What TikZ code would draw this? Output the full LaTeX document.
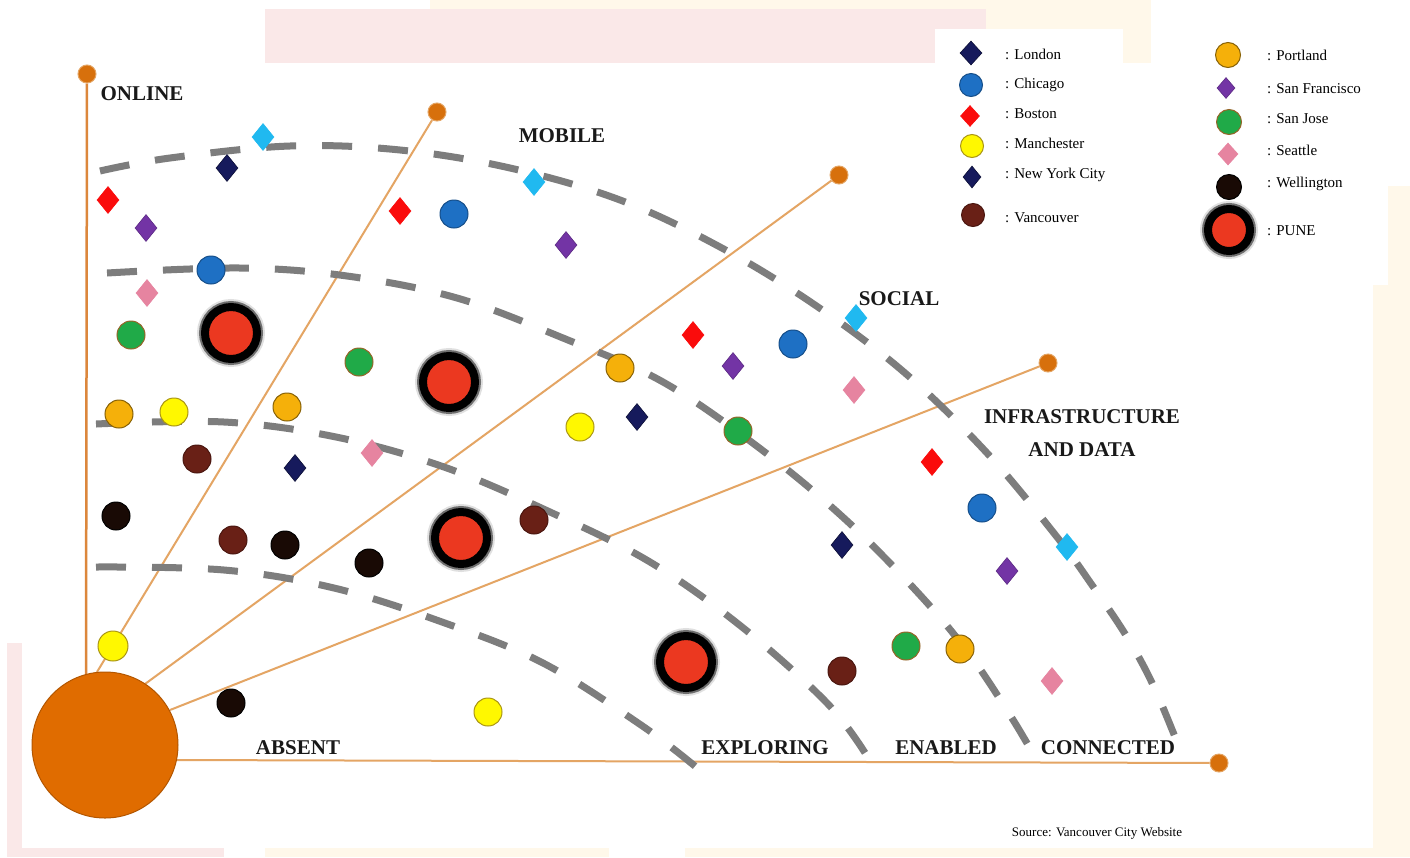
\documentclass[tikz,border=0pt]{standalone}
\usepackage{fontspec}
\setmainfont{Liberation Serif}
\usetikzlibrary{shapes.geometric}
\definecolor{navyc}{RGB}{22,26,92}
\definecolor{cyanc}{RGB}{32,185,240}
\definecolor{bostonc}{RGB}{250,12,12}
\definecolor{purplec}{RGB}{115,52,165}
\definecolor{pinkc}{RGB}{230,132,160}
\definecolor{chicagoc}{RGB}{30,112,196}
\definecolor{yellowc}{RGB}{255,248,0}
\definecolor{vancc}{RGB}{105,32,22}
\definecolor{portc}{RGB}{245,176,10}
\definecolor{greenc}{RGB}{32,170,72}
\definecolor{wellc}{RGB}{25,10,5}
\definecolor{punec}{RGB}{235,56,32}
\definecolor{hubc}{RGB}{224,108,0}
\definecolor{dotc}{RGB}{215,112,12}
\definecolor{rayc}{RGB}{228,165,100}
\definecolor{rayvc}{RGB}{220,135,60}
\definecolor{arcc}{RGB}{125,125,125}
\definecolor{pinkbg}{RGB}{250,232,232}
\definecolor{creambg}{RGB}{255,248,234}
\definecolor{olivec}{RGB}{170,150,20}
\definecolor{brownc}{RGB}{150,100,40}
\tikzset{
  dia/.style={diamond, inner sep=0pt, minimum width=22pt, minimum height=27pt, line width=0.6pt},
  cir/.style={circle, inner sep=0pt, minimum size=28pt, line width=1pt},
  london/.style={dia, fill=navyc, draw=navyc!60!black},
  cyanm/.style={dia, fill=cyanc, draw=cyanc},
  boston/.style={dia, fill=bostonc, draw=bostonc},
  sfm/.style={dia, fill=purplec, draw=purplec!80!black},
  seattle/.style={dia, fill=pinkc, draw=pinkc},
  chicago/.style={cir, fill=chicagoc, draw=chicagoc!70!black},
  manch/.style={cir, fill=yellowc, draw=olivec},
  vanc/.style={cir, fill=vancc, draw=vancc!70!black},
  portl/.style={cir, fill=portc, draw=portc!55!black},
  sjose/.style={cir, fill=greenc, draw=brownc},
  welly/.style={cir, fill=wellc, draw=black},
  pune/.style={circle, inner sep=0pt, minimum size=52pt, fill=punec, draw=black, line width=8pt,
    preaction={draw=black, line width=16pt, draw opacity=0.12},
    preaction={draw=black, line width=12pt, draw opacity=0.5}},
  punelg/.style={pune, minimum size=42pt, line width=8pt},
  hubst/.style={circle, inner sep=0pt, minimum size=146pt, fill=hubc, draw=hubc!80!black, line width=1pt},
  enddot/.style={circle, inner sep=0pt, minimum size=18pt, fill=dotc, draw=rayc, line width=1pt},
  ray/.style={draw=rayc, line width=2pt},
  arcline/.style={draw=arcc, line width=7pt, dash pattern=on 30pt off 26pt},
  lab/.style={font=\fontsize{21}{24}\selectfont\bfseries, text=black!90, inner sep=0pt},
  lgtext/.style={font=\fontsize{15}{18}\selectfont, text=black, anchor=base west, inner sep=0pt},
}
\begin{document}
\begin{tikzpicture}[x=1pt,y=-1pt]
\useasboundingbox (0,0) rectangle (1410,857);
% background
\fill[white] (0,0) rectangle (1410,857);
\fill[creambg] (430,0) rectangle (1151,63);
\fill[pinkbg] (265,9) rectangle (986,63);
\fill[white] (935,29) rectangle (1123,63);
\fill[pinkbg] (7,643) rectangle (22,857);
\fill[pinkbg] (7,848) rectangle (224,857);
\fill[creambg] (265,848) rectangle (609,857);
\fill[creambg] (685,848) rectangle (1410,857);
\fill[creambg] (1388,186) rectangle (1410,857);
\fill[creambg] (1373,285) rectangle (1410,857);

% rays
\node[enddot] (dOnline) at (87,74) {};
\node[enddot] (dMobile) at (437,112) {};
\node[enddot] (dSocial) at (839,175) {};
\node[enddot] (dInfra) at (1048,363) {};
\node[enddot] (dConn) at (1219,763) {};
\coordinate (hOnline) at (86,680);
\coordinate (hMobile) at (97,672);
\coordinate (hSocial) at (145,684);
\coordinate (hInfra) at (170,710);
\coordinate (hConn) at (175,760);
\draw[draw=rayvc, line width=2.5pt] (hOnline) -- (dOnline);
\draw[ray] (hMobile) -- (dMobile);
\draw[ray] (hSocial) -- (dSocial);
\draw[ray] (hInfra) -- (dInfra);
\draw[ray] (hConn) -- (dConn);

% dashed arcs
\draw[arcline] plot[smooth, tension=0.6] coordinates {(100,171) (170,158) (290,146) (400,150) (510,168) (620,200) (720,247) (815,305) (905,373) (987,453) (1057,537) (1092,585) (1127,637) (1154,687) (1181,752)};
\draw[arcline] plot[smooth, tension=0.6] coordinates {(107,273) (240,268) (347,276) (457,298) (563,338) (663,382) (762,450) (846,520) (920,595) (970,655) (1010,715) (1035,757)};
\draw[arcline] plot[smooth, tension=0.6] coordinates {(96,424) (224,422) (336,437) (444,467) (550,512) (650,562) (742,627) (827,703) (867,756)};
\draw[arcline] plot[smooth, tension=0.6] coordinates {(96,567) (224,570) (334,588) (442,622) (543,663) (641,725) (696,767)};

% hub
\node[hubst] (hub) at (105,745) {};

% markers
\node[cyanm] (c1) at (263,137) {};
\node[cyanm] (c2) at (534,182) {};
\node[cyanm] (c3) at (856,318) {};
\node[cyanm] (c4) at (1067,547) {};
\node[london] (l1) at (227,168) {};
\node[london] (l2) at (295,468) {};
\node[london] (l3) at (637,417) {};
\node[london] (l4) at (842,545) {};
\node[boston] (b1) at (108,200) {};
\node[boston] (b2) at (400,211) {};
\node[boston] (b3) at (693,335) {};
\node[boston] (b4) at (932,462) {};
\node[sfm] (s1) at (146,228) {};
\node[sfm] (s2) at (566,245) {};
\node[sfm] (s3) at (733,366) {};
\node[sfm] (s4) at (1007,571) {};
\node[seattle] (e1) at (147,293) {};
\node[seattle] (e2) at (372,453) {};
\node[seattle] (e3) at (854,390) {};
\node[seattle] (e4) at (1052,681) {};
\node[chicago] (h1) at (454,214) {};
\node[chicago] (h2) at (211,270) {};
\node[chicago] (h3) at (793,344) {};
\node[chicago] (h4) at (982,508) {};
\node[sjose] (g1) at (131,335) {};
\node[sjose] (g2) at (359,362) {};
\node[sjose] (g3) at (738,431) {};
\node[sjose] (g4) at (906,646) {};
\node[portl] (o1) at (119,414) {};
\node[portl] (o2) at (287,407) {};
\node[portl] (o3) at (620,368) {};
\node[portl] (o4) at (960,649) {};
\node[manch] (y1) at (174,412) {};
\node[manch] (y2) at (580,427) {};
\node[manch, minimum size=30pt] (y3) at (113,646) {};
\node[manch] (y4) at (488,712) {};
\node[vanc] (v1) at (197,459) {};
\node[vanc] (v2) at (233,540) {};
\node[vanc] (v3) at (534,520) {};
\node[vanc] (v4) at (842,671) {};
\node[welly] (w1) at (116,516) {};
\node[welly] (w2) at (285,545) {};
\node[welly] (w3) at (369,563) {};
\node[welly] (w4) at (231,703) {};
\node[pune] (p1) at (231,333) {};
\node[pune] (p2) at (449,382) {};
\node[pune] (p3) at (461,538) {};
\node[pune] (p4) at (686,662) {};

% labels
\node[lab] (tOnline) at (142,94) {ONLINE};
\node[lab] (tMobile) at (562,136) {MOBILE};
\node[lab] (tSocial) at (899,299) {SOCIAL};
\node[lab] (tInfra1) at (1082,417) {INFRASTRUCTURE};
\node[lab] (tInfra2) at (1082,450) {AND DATA};
\node[lab] (tAbsent) at (298,748) {ABSENT};
\node[lab] (tExpl) at (765,748) {EXPLORING};
\node[lab] (tEnab) at (946,748) {ENABLED};
\node[lab] (tConn) at (1108,748) {CONNECTED};
\node[font=\fontsize{13}{15}\selectfont, text=black, inner sep=0pt] (tSrc) at (1097,833) {Source: Vancouver City Website};

% legend
\node[london, minimum height=24pt] (lg1) at (971,53) {};
\node[chicago, minimum size=23pt] (lg2) at (971,85) {};
\node[boston, minimum width=19pt, minimum height=21pt] (lg3) at (970,116) {};
\node[manch, minimum size=23pt] (lg4) at (972,146) {};
\node[london, minimum width=18pt, minimum height=22pt] (lg5) at (972,177) {};
\node[vanc, minimum size=23pt] (lg6) at (973,215) {};
\node[portl, minimum size=25pt] (lg7) at (1228,55) {};
\node[sfm, minimum width=18pt, minimum height=21pt] (lg8) at (1226,88) {};
\node[sjose, minimum size=25pt] (lg9) at (1229,122) {};
\node[seattle, minimum width=20pt, minimum height=22pt] (lg10) at (1228,154) {};
\node[welly, minimum size=25pt] (lg11) at (1229,187) {};
\node[punelg] (lg12) at (1229,230) {};
\node[lgtext] (lt1) at (1005,59) {: London};
\node[lgtext] (lt2) at (1005,88) {: Chicago};
\node[lgtext] (lt3) at (1005,118) {: Boston};
\node[lgtext] (lt4) at (1005,148) {: Manchester};
\node[lgtext] (lt5) at (1005,178) {: New York City};
\node[lgtext] (lt6) at (1005,222) {: Vancouver};
\node[lgtext] (lt7) at (1267,60) {: Portland};
\node[lgtext] (lt8) at (1267,93) {: San Francisco};
\node[lgtext] (lt9) at (1267,123) {: San Jose};
\node[lgtext] (lt10) at (1267,155) {: Seattle};
\node[lgtext] (lt11) at (1267,187) {: Wellington};
\node[lgtext] (lt12) at (1267,235) {: PUNE};
\end{tikzpicture}
\end{document}
